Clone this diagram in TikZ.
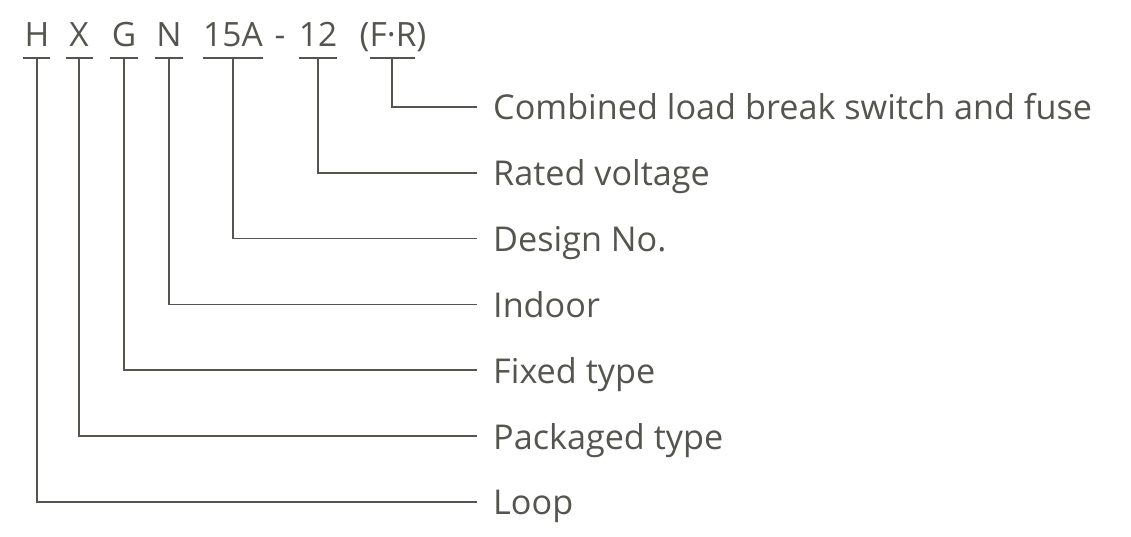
\documentclass[tikz,border=0pt]{standalone}
\usepackage{fontspec}
\setmainfont{Open Sans}
\definecolor{ink}{RGB}{85,85,80}
\begin{document}
\begin{tikzpicture}[x=1pt,y=-1pt,
  code/.style={anchor=base,inner sep=0pt,text=ink,font=\fontsize{33.5}{38}\selectfont},
  lbl/.style={anchor=base west,inner sep=0pt,text=ink,font=\fontsize{34.2}{38}\selectfont},
  wire/.style={draw=ink,line width=1.6pt}]
\useasboundingbox (0,0) rectangle (1131,537);
% code letters
\node[code] (cH)  at (37,47)  {H};
\node[code] (cX)  at (79,47)  {X};
\node[code] (cG)  at (124,47) {G};
\node[code] (cN)  at (169,47) {N};
\node[code] (c15) at (233,47) {15A};
\node[code] (cd)  at (280,47) {-};
\node[code] (c12) at (318,47) {12};
\node[code] (cFR) at (393,47) {(F·R)};
% underlines
\foreach \n/\a/\b/\m in {H/23/50/37, X/66/93/79, G/110/138/124, N/155/183/169, 15/203/263/233, 12/299/337/318, FR/370/415/392}{
  \coordinate (u\n) at (\m,58);
  \draw[wire] (\a,58) -- (\b,58);
}
% labels
\foreach \n/\y/\t in {FR/107/Combined load break switch and fuse, 12/172.8/Rated voltage, 15/238.6/Design No., N/304.4/Indoor, G/370.2/Fixed type, X/436/Packaged type, H/501.8/Loop}{
  \coordinate (e\n) at (477,\y);
  \node[lbl] (l\n) at (493,\y+13) {\t};
  \draw[wire] (u\n) |- (e\n);
}
\end{tikzpicture}
\end{document}
